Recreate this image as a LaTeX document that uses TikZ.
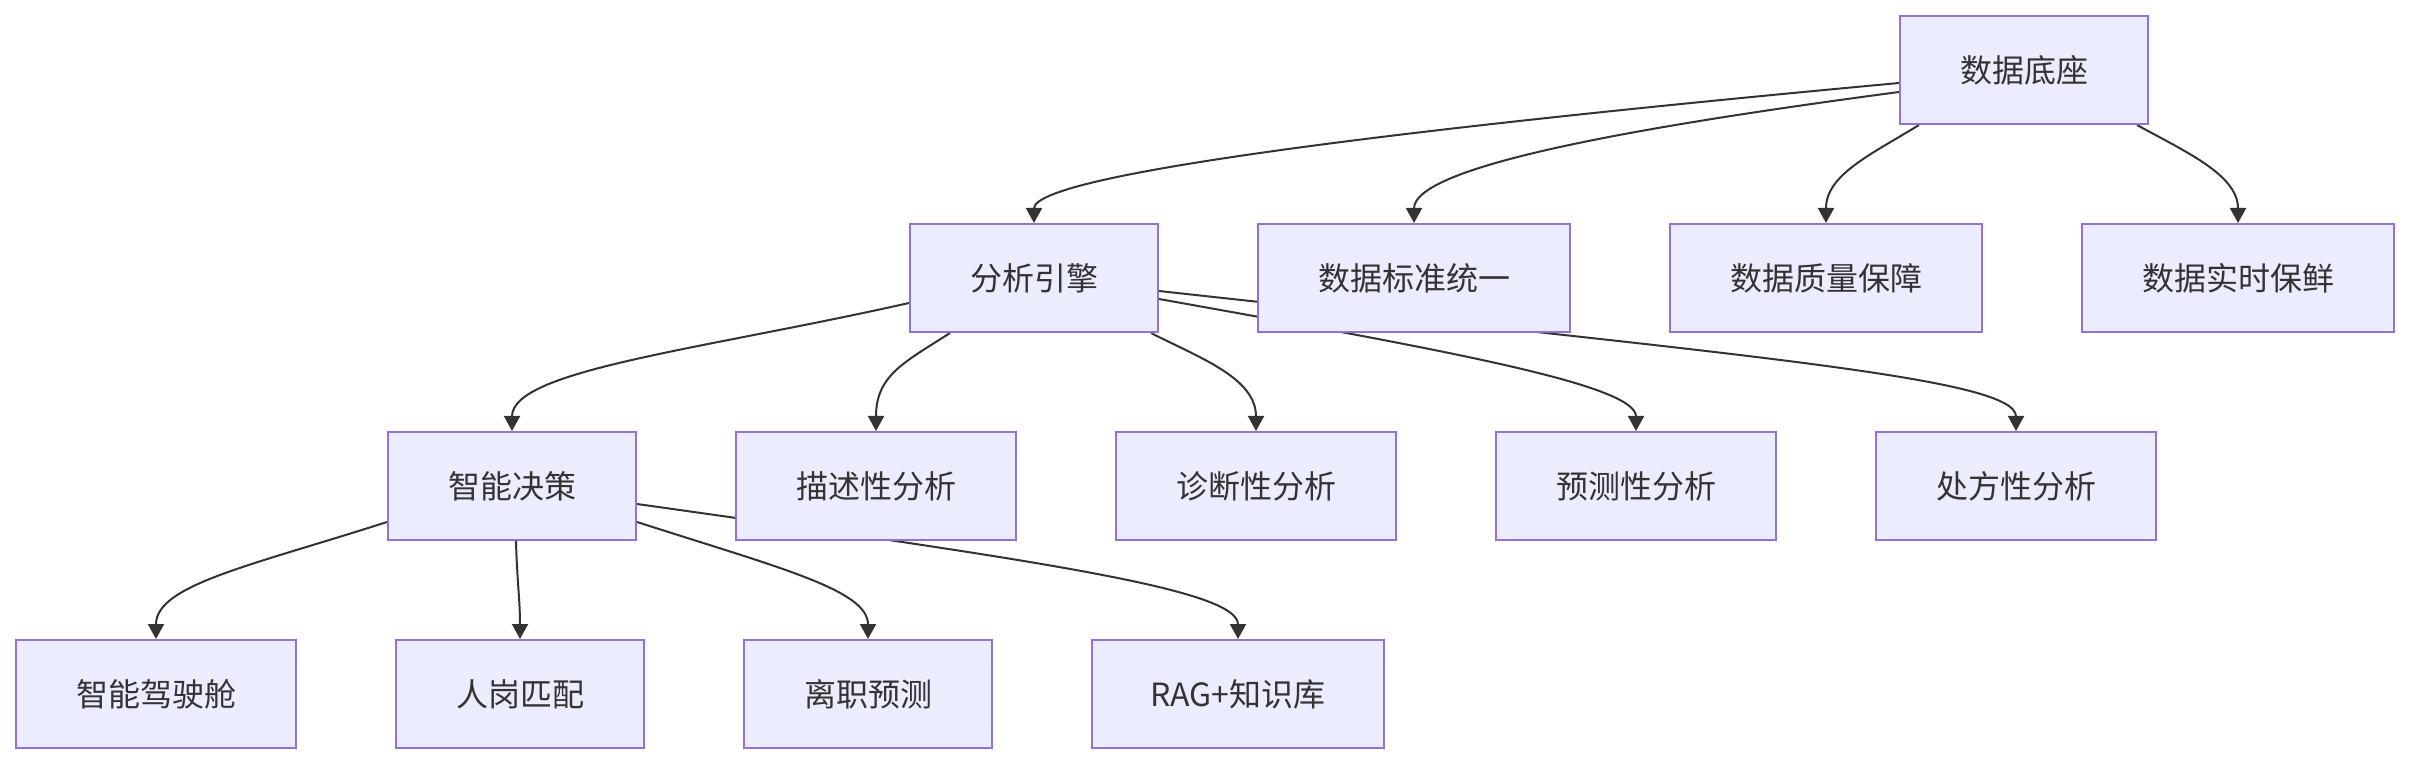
\documentclass[tikz,border=0pt]{standalone}
\usepackage{fontspec}
\setmainfont{Noto Sans CJK SC}
\usetikzlibrary{arrows.meta,calc}
\definecolor{nodefill}{HTML}{ECECFF}
\definecolor{nodeline}{HTML}{9370DB}
\definecolor{edgeline}{HTML}{333333}
\definecolor{txtcol}{HTML}{333333}
\pgfdeclarelayer{edgelayer}
\pgfsetlayers{edgelayer,main}
\begin{document}
\begin{tikzpicture}[x=0.5pt,y=-0.5pt,
  box/.style={draw=nodeline,fill=nodefill,line width=1pt,minimum height=54pt,inner sep=0pt,text=txtcol,font=\fontsize{16pt}{19pt}\selectfont},
  wa/.style={minimum width=124pt},
  wb/.style={minimum width=156pt},
  wc/.style={minimum width=140pt},
  wd/.style={minimum width=146pt},
  link/.style={draw=edgeline,line width=1pt,-{Triangle[width=8pt,length=7.5pt]}}]
\useasboundingbox (0,0) rectangle (2410,764);
% row 1
\node[box,wa] (db) at (2024,70) {数据底座};
% row 2
\node[box,wa] (fx) at (1034,278) {分析引擎};
\node[box,wb] (bz) at (1414,278) {数据标准统一};
\node[box,wb] (zl) at (1826,278) {数据质量保障};
\node[box,wb] (ss) at (2238,278) {数据实时保鲜};
% row 3
\node[box,wa] (zj) at (512,486) {智能决策};
\node[box,wc] (ms) at (876,486) {描述性分析};
\node[box,wc] (zd) at (1256,486) {诊断性分析};
\node[box,wc] (yc) at (1636,486) {预测性分析};
\node[box,wc] (cf) at (2016,486) {处方性分析};
% row 4
\node[box,wc] (jsc) at (156,694) {智能驾驶舱};
\node[box,wa] (rg) at (520,694) {人岗匹配};
\node[box,wa] (lz) at (868,694) {离职预测};
\node[box,wd] (rag) at (1238,694) {RAG+知识库};
\begin{pgfonlayer}{edgelayer}
\fill[white] (0,0) rectangle (2410,764);
\draw[link] ($(db.west)+(0,13)$) .. controls (1500,120) and (1034,170) .. (fx.north);
\draw[link] ($(db.west)+(0,22)$) .. controls (1650,125) and (1414,165) .. (bz.north);
\draw[link] ($(db.south west)+(20,0)$) .. controls (1870,155) and (1826,175) .. (zl.north);
\draw[link] ($(db.south east)+(-12,0)$) .. controls (2186,152) and (2238,175) .. (ss.north);
\draw[link] ($(fx.west)+(0,25)$) .. controls (700,350) and (512,370) .. (zj.north);
\draw[link] ($(fx.south west)+(41,0)$) .. controls (905,362) and (876,375) .. (ms.north);
\draw[link] ($(fx.south east)+(-8,0)$) .. controls (1200,358) and (1256,378) .. (zd.north);
\draw[link] ($(fx.east)+(0,21)$) .. controls (1450,351) and (1636,385) .. (yc.north);
\draw[link] ($(fx.east)+(0,13)$) .. controls (1750,356) and (2016,378) .. (cf.north);
\draw[link] ($(zj.west)+(0,36)$) .. controls (250,566) and (156,585) .. (jsc.north);
\draw[link] ($(zj.south)+(4,0)$) .. controls (517,580) and (520,600) .. (rg.north);
\draw[link] ($(zj.east)+(0,36)$) .. controls (780,568) and (868,590) .. (lz.north);
\draw[link] ($(zj.east)+(0,18)$) .. controls (1050,562) and (1238,590) .. (rag.north);
\end{pgfonlayer}
\end{tikzpicture}
\end{document}
